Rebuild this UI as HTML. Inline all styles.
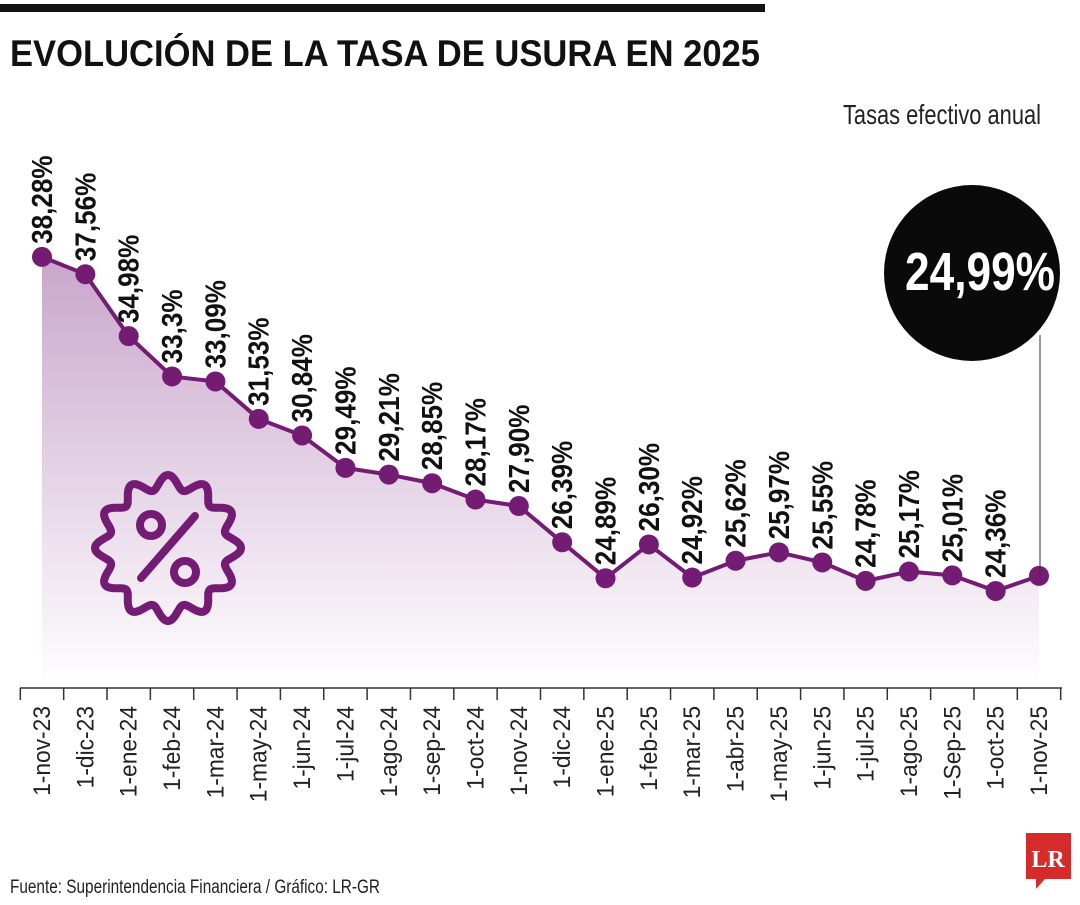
<!DOCTYPE html>
<html><head><meta charset="utf-8"><style>
body{margin:0;background:#fff;width:1080px;height:900px;overflow:hidden;font-family:"Liberation Sans Narrow","Liberation Sans",sans-serif}
</style></head><body>
<svg id="c" width="1080" height="900">
<defs><linearGradient id="g" x1="0" y1="0" x2="0" y2="1">
<stop offset="0" stop-color="#c9a6cc"/><stop offset="1" stop-color="#ffffff"/></linearGradient></defs>
<rect x="0" y="4" width="765" height="8" fill="#111"/>
<text x="10" y="66" font-size="37" font-weight="bold" fill="#111" textLength="750" lengthAdjust="spacingAndGlyphs">EVOLUCIÓN DE LA TASA DE USURA EN 2025</text>
<text x="1041" y="124" font-size="28" fill="#222" text-anchor="end" textLength="198" lengthAdjust="spacingAndGlyphs">Tasas efectivo anual</text>
<g id="plot"></g>
<line x1="1040" y1="335" x2="1040" y2="576" stroke="#333" stroke-width="1"/>
<circle cx="972" cy="273" r="88" fill="#0a0a0a"/>
<text x="905" y="290" font-size="54" font-weight="bold" fill="#fff" textLength="150" lengthAdjust="spacingAndGlyphs">24,99%</text>
<g id="badge"></g>
<text x="10" y="893" font-size="19" fill="#222" textLength="370" lengthAdjust="spacingAndGlyphs">Fuente: Superintendencia Financiera / Gráfico: LR-GR</text>
<g><path d="M1026 833H1071V879H1045L1036 889V879H1026Z" fill="#d62b2b"/>
<text x="1048" y="867" font-size="24" font-weight="bold" fill="#fff" text-anchor="middle" font-family="Liberation Serif,serif">LR</text></g>
</svg>
<script>
const categories=["1-nov-23","1-dic-23","1-ene-24","1-feb-24","1-mar-24","1-may-24","1-jun-24","1-jul-24","1-ago-24","1-sep-24","1-oct-24","1-nov-24","1-dic-24","1-ene-25","1-feb-25","1-mar-25","1-abr-25","1-may-25","1-jun-25","1-jul-25","1-ago-25","1-Sep-25","1-oct-25","1-nov-25"];
const values=[38.28,37.56,34.98,33.3,33.09,31.53,30.84,29.49,29.21,28.85,28.17,27.90,26.39,24.89,26.30,24.92,25.62,25.97,25.55,24.78,25.17,25.01,24.36,24.99];
const valueLabels=["38,28%","37,56%","34,98%","33,3%","33,09%","31,53%","30,84%","29,49%","29,21%","28,85%","28,17%","27,90%","26,39%","24,89%","26,30%","24,92%","25,62%","25,97%","25,55%","24,78%","25,17%","25,01%","24,36%",""];
const NS="http://www.w3.org/2000/svg";
const P="#741b74";
const xs=i=>42+i*(1039-42)/(categories.length-1);
const ys=v=>591-(v-24.36)*24.0;
const plot=document.getElementById('plot');
function mk(t,a,p){const e=document.createElementNS(NS,t);for(const k in a)e.setAttribute(k,a[k]);(p||plot).appendChild(e);return e;}
let d=values.map((v,i)=>(i?'L':'M')+xs(i)+' '+ys(v)).join(' ');
const area=mk('path',{d:d+` L${xs(values.length-1)} 688 L${xs(0)} 688 Z`,fill:'url(#g)'});


const line=mk('path',{d:d,fill:'none',stroke:P,'stroke-width':4});


const ax=mk('line',{x1:20,y1:688,x2:1062,y2:688,stroke:'#333','stroke-width':1.5});


const step=(1039-42)/(categories.length-1);
for(let i=0;i<=categories.length;i++){
 const t=mk('line',{x1:xs(i)-step/2,y1:688,x2:xs(i)-step/2,y2:700,stroke:'#333','stroke-width':1.5});
 
 
}
values.forEach((v,i)=>{
 const x=xs(i),y=ys(v);
 const c=mk('circle',{cx:x,cy:y,r:10,fill:P});
 
 
 if(valueLabels[i]){
  const t=mk('text',{x:0,y:0,transform:`translate(${x+10},${y-13}) rotate(-90) scale(0.9,1)`,'font-size':29,'font-weight':'bold',fill:'#111'});
  t.textContent=valueLabels[i];
  
  
 }
 const cl=mk('text',{x:0,y:0,transform:`translate(${x+8},706) rotate(-90) scale(0.95,1)`,'font-size':24,fill:'#222','text-anchor':'end'});
 cl.textContent=categories[i];
 
 
});
const b=document.getElementById('badge');
let pts=[];const cx=168,cy=548,N=12;
for(let k=0;k<=360;k++){const a=k*Math.PI/180;const r=66+7*Math.cos(N*a);pts.push((k?'L':'M')+(cx+r*Math.cos(a)).toFixed(1)+' '+(cy+r*Math.sin(a)).toFixed(1));}
mk('path',{d:pts.join(' ')+'Z',fill:'none',stroke:P,'stroke-width':8},b);
mk('circle',{cx:151,cy:525,r:11,fill:'none',stroke:P,'stroke-width':8},b);
mk('circle',{cx:185,cy:572,r:11,fill:'none',stroke:P,'stroke-width':8},b);
mk('line',{x1:195,y1:516,x2:141,y2:578,stroke:P,'stroke-width':8,'stroke-linecap':'round'},b);
</script>
</body></html>
